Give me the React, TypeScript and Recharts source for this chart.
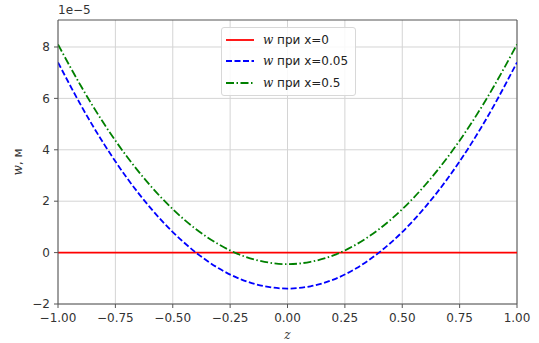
import { LineChart, Line, XAxis, YAxis, CartesianGrid, ReferenceLine } from "recharts";

const zValues = [-1, -0.9, -0.8, -0.7, -0.6, -0.5, -0.4, -0.3, -0.2, -0.1, 0, 0.1, 0.2, 0.3, 0.4, 0.5, 0.6, 0.7, 0.8, 0.9, 1];
const wAtX0 = [0, 0, 0, 0, 0, 0, 0, 0, 0, 0, 0, 0, 0, 0, 0, 0, 0, 0, 0, 0, 0];
const wAtX005 = [7.4, 5.73, 4.23, 2.91, 1.77, 0.8, 0.01, -0.61, -1.05, -1.31, -1.4, -1.31, -1.05, -0.61, 0.01, 0.8, 1.77, 2.91, 4.23, 5.73, 7.4];
const wAtX05 = [8.1, 6.48, 5.02, 3.74, 2.63, 1.69, 0.92, 0.32, -0.11, -0.36, -0.45, -0.36, -0.11, 0.32, 0.92, 1.69, 2.63, 3.74, 5.02, 6.48, 8.1];
const xTicks = [-1, -0.75, -0.5, -0.25, 0, 0.25, 0.5, 0.75, 1];
const yTicks = [-2, 0, 2, 4, 6, 8];

const seriesInfo = [
  { key: "w0", label: "x=0", color: "#ff0000", dash: undefined },
  { key: "w005", label: "x=0.05", color: "#0000ff", dash: "6 2.5" },
  { key: "w05", label: "x=0.5", color: "#008000", dash: "8 2.5 1.5 2.5" },
];

const data = zValues.map((z, i) => ({ z, w0: wAtX0[i], w005: wAtX005[i], w05: wAtX05[i] }));

const font = "DejaVu Sans, sans-serif";
const fmtX = (v: number) => v.toFixed(2).replace("-", "\u2212");
const fmtY = (v: number) => String(v).replace("-", "\u2212");

function LegendBox() {
  return (
    <div
      style={{
        position: "absolute",
        left: 221,
        top: 27,
        border: "1px solid #d8d8d8",
        borderRadius: 3,
        background: "rgba(255,255,255,0.85)",
        padding: "1px 7px 1px 4px",
        fontFamily: font,
        fontSize: 12,
        color: "#222",
      }}
    >
      {seriesInfo.map((s) => (
        <div key={s.key} style={{ display: "flex", alignItems: "center", height: 21.5 }}>
          <svg width={28} height={8} style={{ marginRight: 9 }}>
            <line x1={0} y1={4} x2={28} y2={4} stroke={s.color} strokeWidth={1.8} strokeDasharray={s.dash} />
          </svg>
          <span>
            <i style={{ fontFamily: "DejaVu Serif, serif" }}>w</i> при {s.label}
          </span>
        </div>
      ))}
    </div>
  );
}

export default function App() {
  return (
    <div style={{ position: "absolute", left: 0, top: 0, width: 539, height: 343, background: "#fff" }}>
      <LineChart width={539} height={343} data={data} margin={{ top: 20, right: 22, bottom: 0, left: 0 }}>
        <CartesianGrid stroke="#d4d4d4" strokeWidth={1} horizontalValues={yTicks} verticalValues={xTicks} />
        <XAxis
          dataKey="z"
          type="number"
          domain={[-1, 1]}
          ticks={xTicks}
          tickFormatter={fmtX}
          height={39}
          stroke="#555"
          tickSize={4}
          tickMargin={5}
          tick={{ fontSize: 12, fill: "#333", fontFamily: font }}
          allowDataOverflow
          label={{ value: "z", position: "insideBottom", offset: 4, fontSize: 12, fill: "#333", fontStyle: "italic", fontFamily: "DejaVu Serif, serif" }}
        />
        <YAxis
          type="number"
          domain={[-2, 9.05]}
          ticks={yTicks}
          tickFormatter={fmtY}
          width={58}
          stroke="#555"
          tickSize={4}
          tickMargin={4}
          tick={{ fontSize: 12, fill: "#333", fontFamily: font }}
          allowDataOverflow
        />
        <ReferenceLine y={9.05} stroke="#555" />
        <ReferenceLine x={1} stroke="#555" />
        {seriesInfo.map((s) => (
          <Line
            key={s.key}
            type="natural"
            dataKey={s.key}
            stroke={s.color}
            strokeWidth={1.8}
            strokeDasharray={s.dash}
            dot={false}
            isAnimationActive={false}
          />
        ))}
      </LineChart>
      <LegendBox />
      <div style={{ position: "absolute", left: 58, top: 3, fontFamily: font, fontSize: 12, color: "#333" }}>1e{"\u2212"}5</div>
      <div
        style={{
          position: "absolute",
          left: 18,
          top: 162,
          transform: "translate(-50%, -50%) rotate(-90deg)",
          fontFamily: font,
          fontSize: 12,
          color: "#333",
          whiteSpace: "nowrap",
        }}
      >
        <i style={{ fontFamily: "DejaVu Serif, serif" }}>w</i>, м
      </div>
    </div>
  );
}
